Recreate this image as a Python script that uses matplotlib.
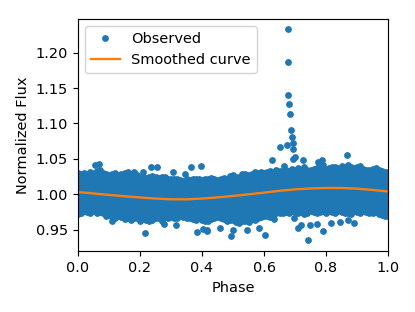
import matplotlib
matplotlib.use("Agg")
import matplotlib.pyplot as plt

# edges of the dense band, every 0.01 in phase
band_phase = [i / 100 for i in range(101)]
band_upper = [1.030, 1.029, 1.030, 1.028, 1.031, 1.030, 1.033, 1.034, 1.030, 1.028,
              1.027, 1.029, 1.030, 1.027, 1.028, 1.030, 1.031, 1.029, 1.031, 1.027,
              1.025, 1.024, 1.023, 1.025, 1.026, 1.024, 1.023, 1.025, 1.024, 1.022,
              1.021, 1.022, 1.021, 1.020, 1.019, 1.021, 1.020, 1.022, 1.021, 1.022,
              1.020, 1.022, 1.021, 1.023, 1.021, 1.020, 1.021, 1.023, 1.022, 1.026,
              1.027, 1.024, 1.025, 1.028, 1.029, 1.027, 1.029, 1.031, 1.030, 1.032,
              1.030, 1.031, 1.033, 1.031, 1.034, 1.033, 1.031, 1.035, 1.033, 1.036,
              1.034, 1.037, 1.035, 1.039, 1.035, 1.034, 1.036, 1.037, 1.040, 1.041,
              1.036, 1.037, 1.039, 1.038, 1.037, 1.040, 1.039, 1.041, 1.038, 1.037,
              1.039, 1.040, 1.036, 1.035, 1.034, 1.036, 1.037, 1.035, 1.033, 1.032, 1.031]
band_lower = [0.972, 0.974, 0.976, 0.975, 0.974, 0.976, 0.974, 0.975, 0.973, 0.970,
              0.971, 0.968, 0.966, 0.969, 0.968, 0.965, 0.966, 0.964, 0.967, 0.966,
              0.963, 0.965, 0.964, 0.962, 0.964, 0.966, 0.967, 0.963, 0.968, 0.967,
              0.968, 0.966, 0.967, 0.969, 0.968, 0.966, 0.967, 0.965, 0.964, 0.966,
              0.964, 0.963, 0.962, 0.965, 0.966, 0.968, 0.967, 0.965, 0.962, 0.964,
              0.964, 0.961, 0.960, 0.962, 0.963, 0.961, 0.965, 0.964, 0.967, 0.968,
              0.970, 0.969, 0.968, 0.971, 0.973, 0.974, 0.973, 0.975, 0.973, 0.976,
              0.975, 0.974, 0.975, 0.972, 0.973, 0.976, 0.975, 0.974, 0.975, 0.977,
              0.974, 0.976, 0.975, 0.974, 0.976, 0.975, 0.973, 0.974, 0.972, 0.976,
              0.975, 0.973, 0.976, 0.975, 0.974, 0.973, 0.975, 0.972, 0.971, 0.970, 0.969]

# points that stand clear of the band
out_phase = [0.676, 0.677, 0.678, 0.682, 0.684, 0.686, 0.689, 0.695, 0.651, 0.674,
             0.693, 0.700, 0.695, 0.627, 0.867, 0.663, 0.727, 0.786, 0.775,
             0.068, 0.056, 0.211, 0.234, 0.254, 0.305, 0.345, 0.365, 0.397,
             0.743, 0.604, 0.493, 0.789, 0.710, 0.720, 0.747, 0.770, 0.458, 0.500,
             0.544, 0.584, 0.415, 0.817, 0.845, 0.890, 0.872, 0.633, 0.698,
             0.216, 0.385, 0.404, 0.417, 0.277, 0.315, 0.109]
out_flux = [1.233, 1.187, 1.140, 1.127, 1.113, 1.091, 1.081, 1.073, 1.067, 1.070,
            1.064, 1.052, 1.050, 1.048, 1.055, 1.040, 1.049, 1.049, 1.046,
            1.043, 1.041, 1.032, 1.038, 1.039, 1.032, 1.028, 1.039, 1.040,
            0.9355, 0.9425, 0.941, 0.948, 0.953, 0.956, 0.957, 0.958, 0.953, 0.950,
            0.950, 0.953, 0.949, 0.959, 0.961, 0.960, 0.964, 0.965, 0.967,
            0.946, 0.947, 0.9515, 0.948, 0.9585, 0.957, 0.963]

curve_phase = [0.00, 0.05, 0.10, 0.15, 0.20, 0.25, 0.30, 0.35, 0.40, 0.45, 0.50,
               0.55, 0.60, 0.65, 0.70, 0.75, 0.80, 0.85, 0.90, 0.95, 1.00]
curve_flux = [1.0033, 1.0012, 0.9992, 0.9973, 0.9956, 0.9940, 0.9930, 0.9929, 0.9940, 0.9957, 0.9977,
              1.0000, 1.0024, 1.0050, 1.0070, 1.0083, 1.0090, 1.0090, 1.0080, 1.0062, 1.0040]

blue = "#1f77b4"
orange = "#ff7f0e"

fig = plt.figure(figsize=(415 / 104, 312 / 104), dpi=104)
ax = fig.add_axes([78 / 415, 61 / 312, 310 / 415, 232 / 312])

ax.fill_between(band_phase, band_lower, band_upper, color=blue, lw=0)
ax.plot(band_phase, band_upper, "o", color=blue, ms=3.7)
ax.plot(band_phase, band_lower, "o", color=blue, ms=3.7)
ax.plot(out_phase, out_flux, "o", color=blue, ms=3.7, label="Observed")
ax.plot(curve_phase, curve_flux, "-", color=orange, lw=1.6, label="Smoothed curve")

ax.set_xlim(0, 1)
ax.set_ylim(0.92, 1.2475)
ax.set_yticks([0.95, 1.00, 1.05, 1.10, 1.15, 1.20])
ax.set_xlabel("Phase")
ax.set_ylabel("Normalized Flux")
ax.legend(loc="upper left")

fig.savefig("out.png", dpi=104)
